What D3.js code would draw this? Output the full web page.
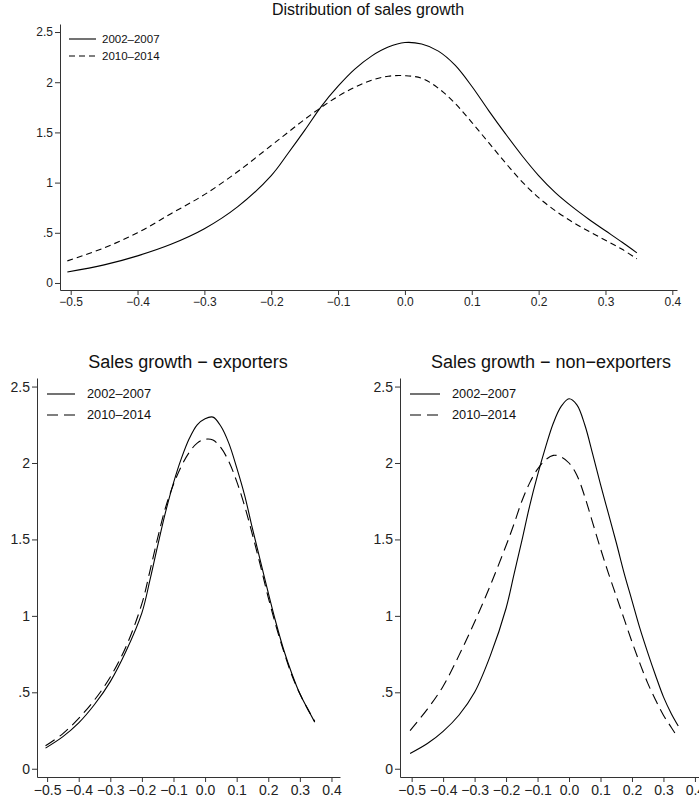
<!DOCTYPE html>
<html lang="en">
<head>
  <meta charset="UTF-8">
  <title>Sales growth distributions</title>
  <script src="https://d3js.org/d3.v7.min.js"></script>
  <style>
    body {
      margin: 0;
      background: #fff;
    }
    svg {
      font-family: "Liberation Sans", Arial, Helvetica, sans-serif;
      display: block;
    }
    .axis path, .axis line {
      stroke: #333;
      stroke-width: 1;
    }
    .axis text {
      fill: #222;
    }
    .curve {
      fill: none;
      stroke: #000;
      stroke-width: 1.1;
    }
  </style>
</head>
<body>
  <script>
    // density grid (sales growth)
    const growth = [-0.505, -0.45, -0.4, -0.35, -0.3, -0.25, -0.2, -0.175, -0.15, -0.125,
      -0.1, -0.075, -0.05, -0.025, 0, 0.025, 0.05, 0.075, 0.1, 0.125,
      0.15, 0.175, 0.2, 0.225, 0.25, 0.275, 0.3, 0.325, 0.347];

    // all firms
    const allEarly = [0.11, 0.18, 0.27, 0.385, 0.54, 0.76, 1.07, 1.29, 1.52, 1.76,
      1.96, 2.13, 2.26, 2.35, 2.395, 2.38, 2.31, 2.17, 1.96, 1.72,
      1.49, 1.27, 1.07, 0.9, 0.76, 0.635, 0.52, 0.405, 0.3];
    const allLate = [0.22, 0.35, 0.5, 0.69, 0.88, 1.11, 1.37, 1.5, 1.63, 1.75,
      1.86, 1.95, 2.02, 2.06, 2.065, 2.04, 1.94, 1.79, 1.6, 1.4,
      1.2, 1.01, 0.85, 0.72, 0.61, 0.515, 0.425, 0.335, 0.24];

    // exporters
    const expEarly = [0.135, 0.21, 0.3, 0.42, 0.57, 0.77, 1.02, 1.23, 1.46, 1.68,
      1.87, 2.03, 2.16, 2.25, 2.29, 2.3, 2.24, 2.13, 1.97, 1.79,
      1.57, 1.36, 1.15, 0.95, 0.77, 0.62, 0.49, 0.39, 0.305];
    const expLate = [0.15, 0.23, 0.33, 0.45, 0.6, 0.8, 1.08, 1.29, 1.51, 1.71,
      1.86, 1.98, 2.07, 2.13, 2.155, 2.15, 2.1, 2.01, 1.88, 1.72,
      1.53, 1.33, 1.12, 0.93, 0.76, 0.61, 0.49, 0.39, 0.31];

    // non-exporters
    const nonEarly = [0.1, 0.165, 0.245, 0.35, 0.5, 0.74, 1.05, 1.27, 1.49, 1.72,
      1.92, 2.1, 2.26, 2.37, 2.42, 2.38, 2.25, 2.06, 1.86, 1.67,
      1.48, 1.28, 1.1, 0.92, 0.76, 0.61, 0.47, 0.36, 0.28];
    const nonLate = [0.25, 0.39, 0.54, 0.74, 0.96, 1.2, 1.46, 1.6, 1.75, 1.87,
      1.96, 2.02, 2.05, 2.04, 2.0, 1.92, 1.78, 1.61, 1.44, 1.28,
      1.13, 0.98, 0.83, 0.69, 0.56, 0.45, 0.35, 0.27, 0.2];

    const periods = ["2002\u20132007", "2010\u20132014"];
    const xTicks = [-0.5, -0.4, -0.3, -0.2, -0.1, 0, 0.1, 0.2, 0.3, 0.4];
    const yTicks = [0, 0.5, 1, 1.5, 2, 2.5];

    const svg = d3.select("body")
      .append("svg")
      .attr("width", 699)
      .attr("height", 801);

    function drawPanel(p) {
      const x = d3.scaleLinear().domain(p.xDomain).range(p.xRange);
      const y = d3.scaleLinear().domain(p.yDomain).range(p.yRange);
      const g = svg.append("g");

      // axes
      g.append("g")
        .attr("class", "axis")
        .attr("transform", `translate(0,${p.yRange[0]})`)
        .call(d3.axisBottom(x).tickValues(xTicks).tickFormat(d3.format(".1f"))
          .tickSize(5).tickSizeOuter(0).tickPadding(p.xPad))
        .call(a => a.selectAll("text").style("font-size", p.tickFont + "px"));

      g.append("g")
        .attr("class", "axis")
        .attr("transform", `translate(${p.xRange[0]},0)`)
        .call(d3.axisLeft(y).tickValues(yTicks)
          .tickFormat(d => String(d).replace(/^0\./, "."))
          .tickSize(5).tickSizeOuter(0).tickPadding(2))
        .call(a => a.selectAll("text").style("font-size", p.tickFont + "px"));

      const line = d3.line()
        .x((d, i) => x(growth[i]))
        .y(d => y(d))
        .curve(d3.curveCatmullRom.alpha(0.5));

      g.append("path").attr("class", "curve").attr("d", line(p.early));
      g.append("path").attr("class", "curve")
        .attr("stroke-dasharray", p.dash)
        .attr("d", line(p.late));

      // title
      g.append("text")
        .attr("x", p.titleX)
        .attr("y", p.titleY)
        .attr("text-anchor", "middle")
        .style("font-size", p.titleFont + "px")
        .attr("fill", "#111")
        .text(p.title);

      // legend
      const lg = g.append("g");
      periods.forEach((name, i) => {
        const ly = p.legY + i * p.legStep;
        lg.append("line")
          .attr("x1", p.legX).attr("x2", p.legX + p.legLen)
          .attr("y1", ly).attr("y2", ly)
          .attr("stroke", "#000")
          .attr("stroke-width", 1.1)
          .attr("stroke-dasharray", i === 0 ? null : p.dash);
        lg.append("text")
          .attr("x", p.legText)
          .attr("y", ly)
          .attr("dy", "0.35em")
          .style("font-size", p.legFont + "px")
          .attr("fill", "#111")
          .text(name);
      });
    }

    drawPanel({
      xDomain: [-0.516, 0.407], xRange: [60, 677],
      yDomain: [-0.07, 2.58], yRange: [290, 24],
      early: allEarly, late: allLate, dash: "6,4",
      tickFont: 12, xPad: 2,
      title: "Distribution of sales growth", titleX: 368, titleY: 15, titleFont: 16,
      legX: 69, legLen: 27, legText: 102, legY: 39, legStep: 17, legFont: 11.5
    });

    drawPanel({
      xDomain: [-0.532, 0.427], xRange: [37, 340],
      yDomain: [-0.054, 2.556], yRange: [777, 378],
      early: expEarly, late: expLate, dash: "11,6",
      tickFont: 14, xPad: 3,
      title: "Sales growth \u2212 exporters", titleX: 188, titleY: 368, titleFont: 18,
      legX: 47, legLen: 28, legText: 87, legY: 394, legStep: 21, legFont: 12.8
    });

    drawPanel({
      xDomain: [-0.537, 0.432], xRange: [400, 705],
      yDomain: [-0.054, 2.556], yRange: [777, 378],
      early: nonEarly, late: nonLate, dash: "11,6",
      tickFont: 14, xPad: 3,
      title: "Sales growth \u2212 non\u2212exporters", titleX: 551, titleY: 368, titleFont: 18,
      legX: 410, legLen: 30, legText: 452, legY: 394, legStep: 21, legFont: 12.8
    });
  </script>
</body>
</html>
